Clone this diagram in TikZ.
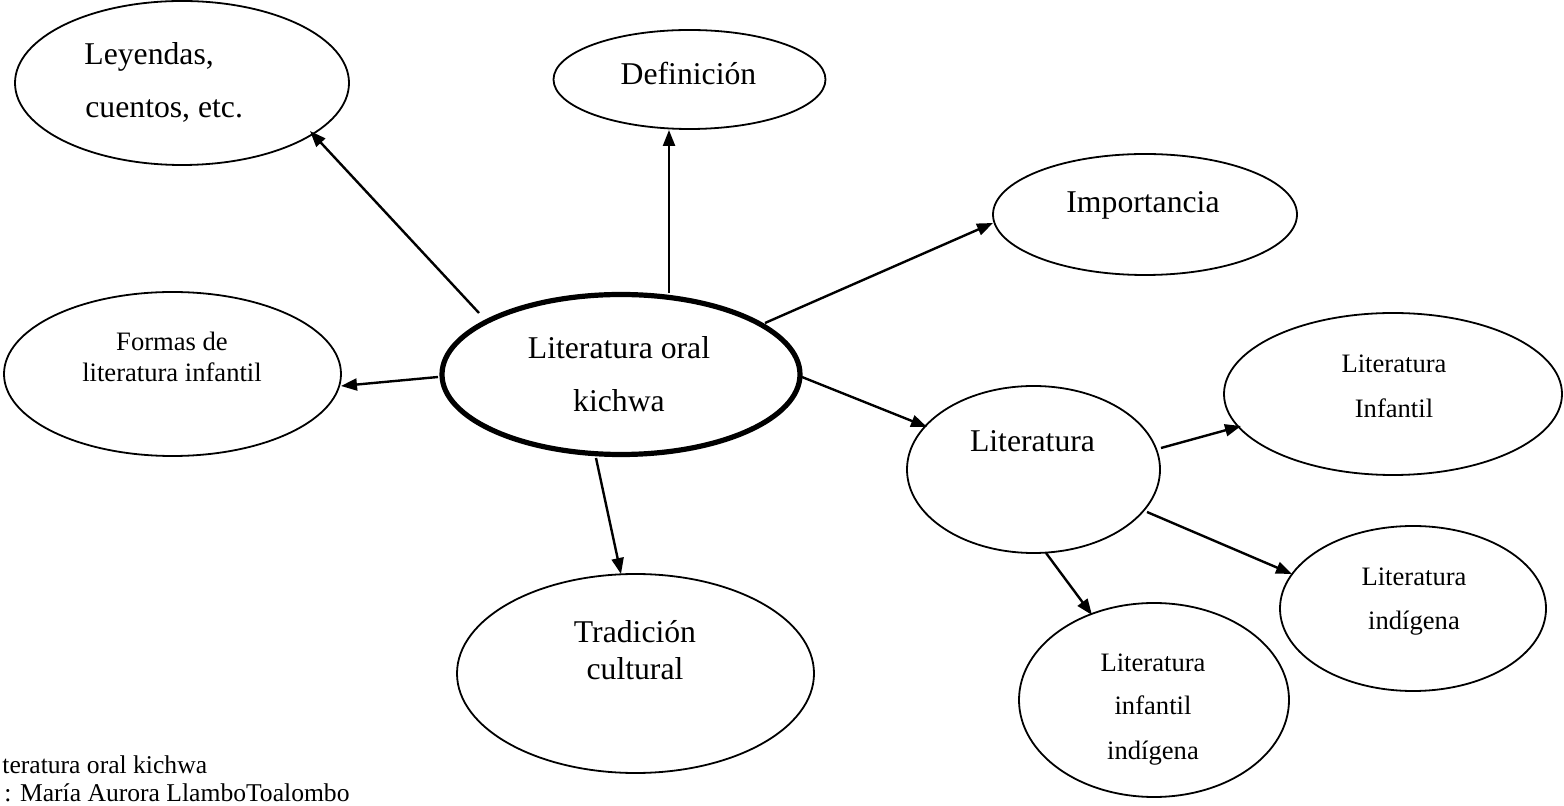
\documentclass[tikz,border=0pt]{standalone}
\usepackage{fontspec}
\setmainfont{Liberation Serif}
\usetikzlibrary{shapes.geometric,arrows.meta}
\begin{document}
\begin{tikzpicture}[x=0.5pt,y=-0.5pt,
  bub/.style={draw,ellipse,inner sep=0pt,outer sep=0pt,line width=0.9pt},
  hub/.style={draw,ellipse,inner sep=0pt,outer sep=0pt,line width=2.6pt},
  big/.style={inner sep=0pt,anchor=base,font=\fontsize{15.85}{19}\selectfont},
  bigw/.style={inner sep=0pt,anchor=base west,font=\fontsize{15.85}{19}\selectfont},
  small/.style={inner sep=0pt,anchor=base,font=\fontsize{13.3}{16}\selectfont},
  capt/.style={inner sep=0pt,anchor=base west,font=\fontsize{12.8}{15}\selectfont},
  arr/.style={-{Triangle[length=8pt,width=6pt]},line width=1.2pt}]
\useasboundingbox (0,0) rectangle (1564,806);

% ellipses
\node[hub,minimum width=179pt,minimum height=80pt] (c) at (621,374.5) {};
\node[bub,minimum width=167pt,minimum height=82pt] (ley) at (182,83) {};
\node[bub,minimum width=136pt,minimum height=49.5pt] (def) at (689.5,79.5) {};
\node[bub,minimum width=152pt,minimum height=60.5pt] (imp) at (1145,214.5) {};
\node[bub,minimum width=168.5pt,minimum height=82pt] (for) at (172.5,374) {};
\node[bub,minimum width=178.5pt,minimum height=99.5pt] (tra) at (635.5,673.5) {};
\node[bub,minimum width=126.5pt,minimum height=83.5pt] (lit) at (1033.5,469.5) {};
\node[bub,minimum width=169pt,minimum height=81pt] (lin) at (1393,394) {};
\node[bub,minimum width=133pt,minimum height=82.5pt] (lind) at (1413,608.5) {};
\node[bub,minimum width=135pt,minimum height=97pt] (lii) at (1154,700) {};

% texts
\node[big] (tc1) at (619,359) {Literatura oral};
\node[big] (tc2) at (619,412) {kichwa};
\node[bigw] (tley1) at (84,65) {Leyendas,};
\node[bigw] (tley2) at (85,118) {cuentos, etc.};
\node[big] (tdef) at (688.5,85) {Definición};
\node[big] (timp) at (1143,213) {Importancia};
\node[small] (tfor1) at (172,351) {Formas de};
\node[small] (tfor2) at (172,382) {literatura infantil};
\node[big] (tlit) at (1032.5,452) {Literatura};
\node[big] (ttra1) at (635,643) {Tradición};
\node[big] (ttra2) at (635,680) {cultural};
\node[small] (tlin1) at (1394,373) {Literatura};
\node[small] (tlin2) at (1394,418) {Infantil};
\node[small] (tlind1) at (1414,586) {Literatura};
\node[small] (tlind2) at (1414,630) {indígena};
\node[small] (tlii1) at (1153,672) {Literatura};
\node[small] (tlii2) at (1153,715) {infantil};
\node[small] (tlii3) at (1153,759) {indígena};
\node[capt] (cap1) at (2,773) {teratura oral kichwa};
\node[capt] (cap2) at (4,801) {: María Aurora LlamboToalombo};

% connectors
\draw[arr] ([shift={(-142,-61.5)}]c.center) -- ([shift={(128,48)}]ley.center);
\draw[arr] ([shift={(48,-81.5)}]c.center) -- ([shift={(-20.5,50.5)}]def.center);
\draw[arr] ([shift={(144,-51.5)}]c.center) -- ([shift={(-152,8.5)}]imp.center);
\draw[arr] ([shift={(-183,2.5)}]c.center) -- ([shift={(168.5,12)}]for.center);
\draw[arr] ([shift={(181,2.5)}]c.center) -- ([shift={(-106.5,-42.5)}]lit.center);
\draw[arr] ([shift={(-25,83.5)}]c.center) -- ([shift={(-14.5,-99.5)}]tra.center);
\draw[arr] ([shift={(127.5,-21.5)}]lit.center) -- ([shift={(-152,32)}]lin.center);
\draw[arr] ([shift={(113.5,42.5)}]lit.center) -- ([shift={(-121,-34.5)}]lind.center);
\draw[arr] ([shift={(12.5,83.5)}]lit.center) -- ([shift={(-62,-85)}]lii.center);
\end{tikzpicture}
\end{document}
